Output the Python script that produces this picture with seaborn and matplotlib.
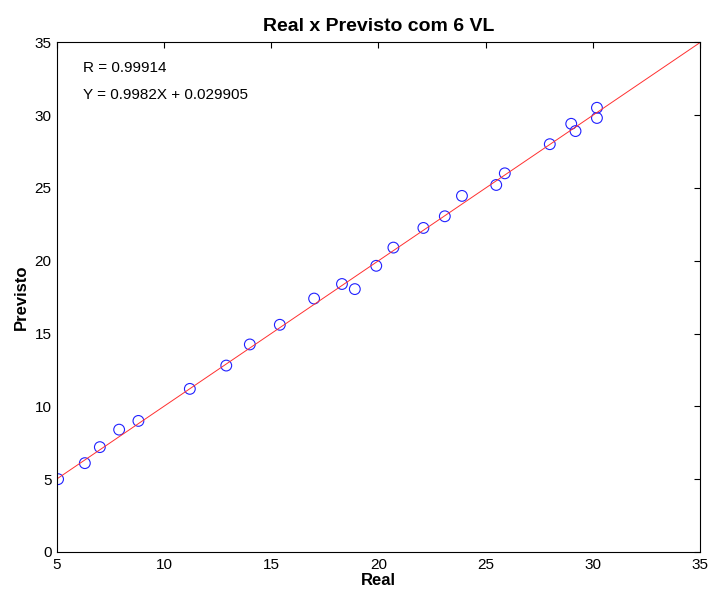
import numpy as np
import pandas as pd
import matplotlib
matplotlib.use("Agg")
import matplotlib.pyplot as plt
import seaborn as sns

# valores
real = [5.05, 6.3, 7.0, 7.9, 8.8, 11.2, 12.9, 14.0, 15.4, 17.0, 18.3, 18.9,
        19.9, 20.7, 22.1, 23.1, 23.9, 25.5, 25.9, 28.0, 29.0, 29.2, 30.2, 30.2]
previsto = [5.0, 6.1, 7.2, 8.4, 9.0, 11.2, 12.8, 14.25, 15.6, 17.4, 18.4, 18.05,
            19.65, 20.9, 22.25, 23.05, 24.45, 25.2, 26.0, 28.0, 29.4, 28.9, 30.5, 29.8]
coef_a = 0.9982
coef_b = 0.029905
r_valor = 0.99914
x_lim = [5, 35]
y_lim = [0, 35]

sns.set_style("white", {'text.color': 'black', 'axes.labelcolor': 'black',
                        'xtick.color': 'black', 'ytick.color': 'black'})
plt.rcParams['font.family'] = ['Liberation Sans', 'DejaVu Sans']

df = pd.DataFrame({'Real': real, 'Previsto': previsto})
reta = pd.DataFrame({'Real': x_lim, 'Previsto': [coef_a * x + coef_b for x in x_lim]})

fig = plt.figure(figsize=(7.09, 5.95), dpi=100)
ax = fig.add_axes([0.0804, 0.0723, 0.9066, 0.8567])

sns.lineplot(data=reta, x='Real', y='Previsto', ax=ax, color='#ff3030', linewidth=0.7)
sns.scatterplot(data=df, x='Real', y='Previsto', ax=ax, marker='o', s=60,
                facecolors='none', edgecolor='#2020ff', linewidth=0.8)

ax.set_xlim(x_lim)
ax.set_ylim(y_lim)
ax.set_xticks(np.arange(5, 36, 5))
ax.set_yticks(np.arange(0, 36, 5))
ax.tick_params(direction='in', top=True, right=True, length=4, width=0.8,
               labelsize=11, pad=4, colors='black')
for s in ax.spines.values():
    s.set_color('black')
    s.set_linewidth(0.8)

ax.set_title('Real x Previsto com 6 VL', fontsize=14, fontweight='bold', pad=8, color='black')
ax.set_xlabel('Real', fontsize=12, fontweight='bold', labelpad=1)
ax.set_ylabel('Previsto', fontsize=12, fontweight='bold', labelpad=4)

ax.text(6.2, 33.2, f'R = {r_valor}', fontsize=11, va='center', color='black')
ax.text(6.2, 31.35, f'Y = {coef_a}X + {coef_b}', fontsize=11, va='center', color='black')

fig.savefig('out.png', dpi=100)
